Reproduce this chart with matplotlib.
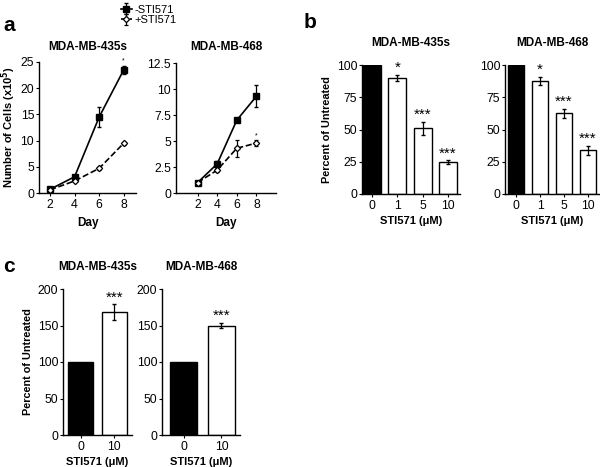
import numpy as np
import matplotlib.pyplot as plt

plt.rcParams["font.family"] = ["Liberation Sans", "DejaVu Sans"]
plt.rcParams["axes.linewidth"] = 1.0
plt.rcParams["xtick.major.size"] = 2.5
plt.rcParams["ytick.major.size"] = 2.5
plt.rcParams["xtick.major.pad"] = 2
plt.rcParams["ytick.major.pad"] = 1
plt.rcParams["xtick.labelsize"] = 8.8
plt.rcParams["ytick.labelsize"] = 8.8

# panel a: growth curves
days = [2, 4, 6, 8]
ctrl_435 = [0.7, 3.1, 14.5, 23.5]
ctrl_435_err = [0.2, 0.3, 1.9, 0.7]
sti_435 = [0.6, 2.3, 4.7, 9.5]
sti_435_err = [0.1, 0.2, 0.3, 0.3]
ctrl_468 = [1.0, 2.8, 7.0, 9.3]
ctrl_468_err = [0.1, 0.3, 0.2, 1.05]
sti_468 = [1.0, 2.2, 4.3, 4.8]
sti_468_err = [0.1, 0.2, 0.8, 0.3]

# panel b: dose response
doses_b = ["0", "1", "5", "10"]
pct_435 = [100, 90, 51, 24.5]
pct_435_err = [0, 2.5, 5, 1.5]
stars_435 = ["", "*", "***", "***"]
pct_468 = [100, 87.5, 62.5, 34]
pct_468_err = [0, 3, 3.5, 3.5]
stars_468 = ["", "*", "***", "***"]

# panel c
doses_c = ["0", "10"]
pct_c_435 = [100, 168]
pct_c_435_err = [0, 11]
pct_c_468 = [100, 150]
pct_c_468_err = [0, 4]
stars_c = ["", "***"]

W, H = 600, 467
fig = plt.figure(figsize=(6, 4.67), dpi=100)


def add_ax(x0, y0, x1, y1):
    # pixel box -> figure fraction
    return fig.add_axes([x0 / W, 1 - y1 / H, (x1 - x0) / W, (y1 - y0) / H])


def style(ax):
    for s in ["top", "right"]:
        ax.spines[s].set_visible(False)
    ax.tick_params(colors="black")


# ---- panel a ----
ax1 = add_ax(39, 62, 136, 193)
ax2 = add_ax(176, 63, 276, 193)
for ax, c, ce, s, se, ymax, yt in [
    (ax1, ctrl_435, ctrl_435_err, sti_435, sti_435_err, 25, [0, 5, 10, 15, 20, 25]),
    (ax2, ctrl_468, ctrl_468_err, sti_468, sti_468_err, 12.5, [0, 2.5, 5, 7.5, 10, 12.5]),
]:
    l1 = ax.errorbar(days, c, yerr=ce, color="black", marker="s", markersize=4.5,
                     lw=1.2, capsize=1.2, elinewidth=0.9, label="-STI571")
    l2 = ax.errorbar(days, s, yerr=se, color="black", marker="D", markersize=3.2,
                     mfc="white", mec="black", mew=0.9, lw=1.2, ls="--",
                     capsize=1.2, elinewidth=0.9, label="+STI571")
    ax.set_ylim(0, ymax)
    ax.set_yticks(yt)
    ax.set_yticklabels([f"{v:g}" for v in yt])
    ax.set_xticks(days)
    ax.set_xlabel("Day", fontsize=8.5, fontweight="bold", labelpad=4)
    style(ax)
ax1.set_xlim(1.1, 9.0)
ax2.set_xlim(-0.2, 10.0)
ax1.text(8, ctrl_435[3] + ctrl_435_err[3] + 0.3, "*", ha="center", va="bottom", fontsize=5)
ax2.text(8, sti_468[3] + sti_468_err[3] + 0.1, "*", ha="center", va="bottom", fontsize=5)
ax1.set_ylabel("Number of Cells (x10$^{\\mathbf{5}}$)", fontsize=8, fontweight="bold", labelpad=2)
ax1.set_title("MDA-MB-435s", fontsize=8.5, fontweight="bold", pad=9)
ax2.set_title("MDA-MB-468", fontsize=8.5, fontweight="bold", pad=9)
ax1.legend(handles=[l1, l2], loc="upper left", bbox_to_anchor=(115 / W, 1 + 1 / H),
           bbox_transform=fig.transFigure, frameon=False, fontsize=8,
           handlelength=1.0, handletextpad=0.25, labelspacing=0.05, borderpad=0)

# ---- panel b ----
bx1 = add_ax(362, 65, 460, 194)
bx2 = add_ax(505, 65, 600, 194)
for ax, vals, errs, stars, lim in [
    (bx1, pct_435, pct_435_err, stars_435, (-0.39, 3.47)),
    (bx2, pct_468, pct_468_err, stars_468, (-0.46, 3.5)),
]:
    x = np.arange(len(vals))
    cols = ["black"] + ["white"] * (len(vals) - 1)
    ax.bar(x, vals, width=0.7, color=cols, edgecolor="black", linewidth=1.0)
    ax.errorbar(x[1:], vals[1:], yerr=errs[1:], fmt="none", ecolor="black",
                elinewidth=0.9, capsize=1.5)
    for xi, v, e, st in zip(x, vals, errs, stars):
        if st:
            ax.text(xi, v + e, st, ha="center", va="bottom", fontsize=11)
    ax.set_xlim(*lim)
    ax.set_ylim(0, 100)
    ax.set_yticks([0, 25, 50, 75, 100])
    ax.set_xticks(x)
    ax.set_xticklabels(doses_b)
    ax.set_xlabel("STI571 (μM)", fontsize=8, fontweight="bold", labelpad=3)
    style(ax)
bx1.set_ylabel("Percent of Untreated", fontsize=7.8, fontweight="bold", labelpad=3)
bx1.set_title("MDA-MB-435s", fontsize=8.5, fontweight="bold", pad=14)
bx2.set_title("MDA-MB-468", fontsize=8.5, fontweight="bold", pad=14)

# ---- panel c ----
cx1 = add_ax(63, 289, 132, 435)
cx2 = add_ax(162, 289, 240, 435)
for ax, vals, errs, lim, w in [
    (cx1, pct_c_435, pct_c_435_err, (-0.52, 1.52), 0.735),
    (cx2, pct_c_468, pct_c_468_err, (-0.57, 1.49), 0.71),
]:
    x = np.arange(len(vals))
    ax.bar(x, vals, width=w, color=["black", "white"], edgecolor="black", linewidth=1.0)
    ax.errorbar(x[1:], vals[1:], yerr=errs[1:], fmt="none", ecolor="black",
                elinewidth=0.9, capsize=1.5)
    for xi, v, e, st in zip(x, vals, errs, stars_c):
        if st:
            ax.text(xi, v + e, st, ha="center", va="bottom", fontsize=11)
    ax.set_xlim(*lim)
    ax.set_ylim(0, 200)
    ax.set_yticks([0, 50, 100, 150, 200])
    ax.set_xticks(x)
    ax.set_xticklabels(doses_c)
    ax.set_xlabel("STI571 (μM)", fontsize=8, fontweight="bold", labelpad=3)
    style(ax)
cx1.set_ylabel("Percent of Untreated", fontsize=7.8, fontweight="bold", labelpad=3)
cx1.set_title("MDA-MB-435s", fontsize=8.5, fontweight="bold", pad=14)
cx2.set_title("MDA-MB-468", fontsize=8.5, fontweight="bold", pad=14)

# panel letters
fig.text(3 / W, 1 - 31 / H, "a", fontsize=15, fontweight="bold")
fig.text(304 / W, 1 - 28 / H, "b", fontsize=15, fontweight="bold")
fig.text(3 / W, 1 - 272 / H, "c", fontsize=15, fontweight="bold")

fig.savefig("out.png", dpi=100)
